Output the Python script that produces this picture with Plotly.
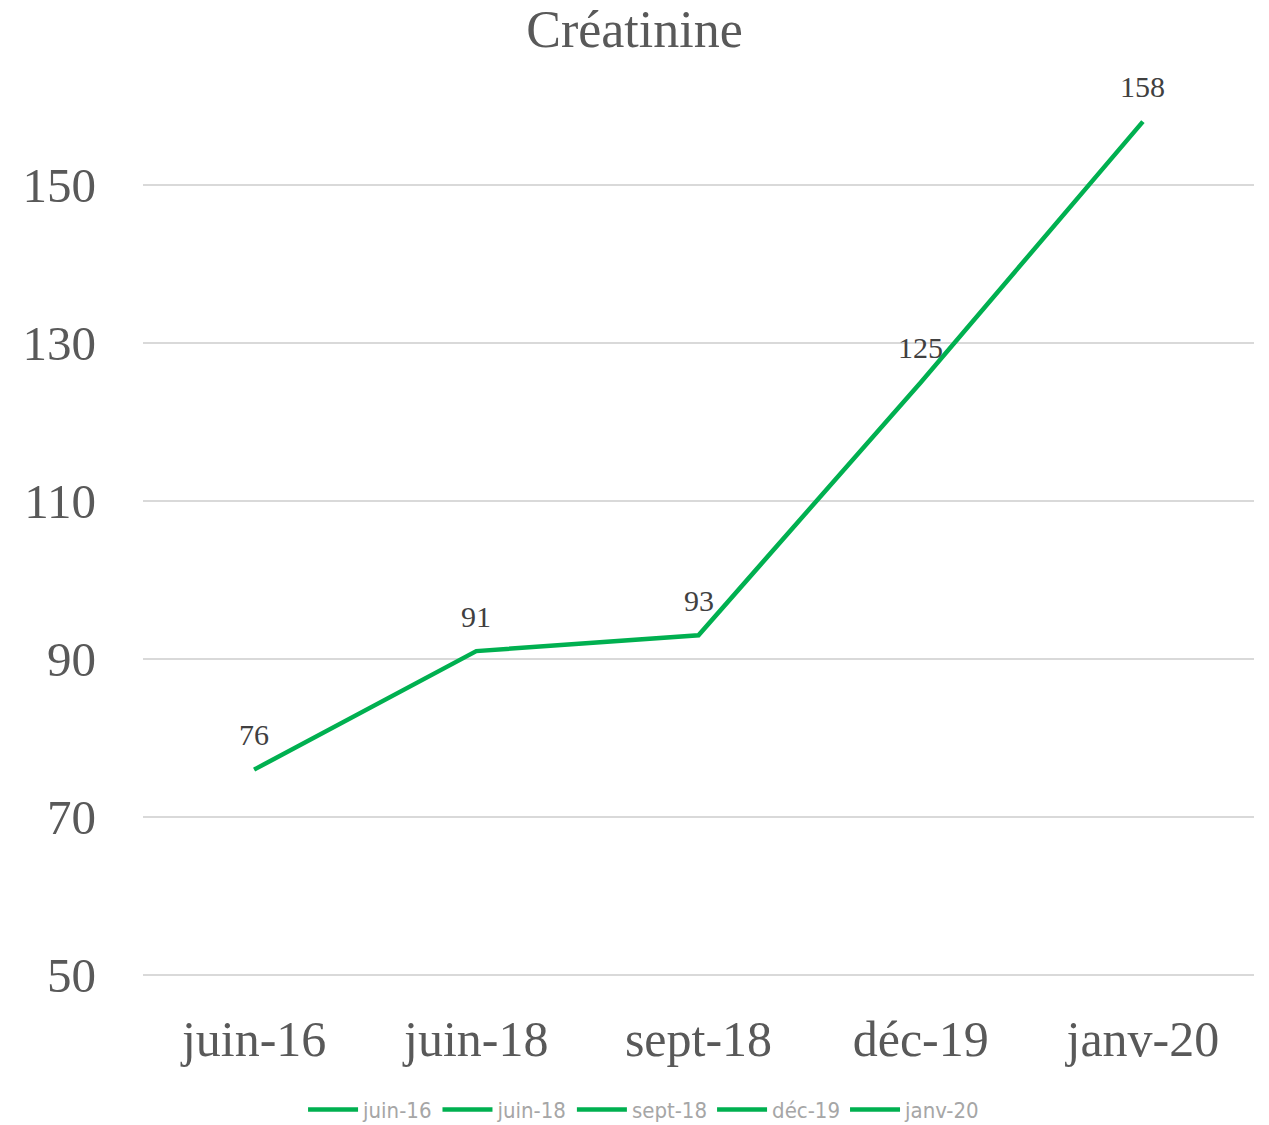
import plotly.graph_objects as go

# Créatinine measurements by date
dates = ["juin-16", "juin-18", "sept-18", "déc-19", "janv-20"]
creatinine = [76, 91, 93, 125, 158]
y_ticks = [50, 70, 90, 110, 130, 150]

green = "#00B050"
grey = "#595959"

fig = go.Figure()

fig.add_trace(go.Scatter(
    x=dates, y=creatinine,
    mode="lines",
    line=dict(color=green, width=4.5),
    showlegend=False,
))

# Value labels above each point
for d, v in zip(dates, creatinine):
    fig.add_annotation(
        x=d, y=v, text=str(v), showarrow=False,
        yshift=35, xanchor="center", yanchor="middle",
        font=dict(family="Liberation Serif", size=30, color="#404040"),
    )

# Legend entries, one per date
for d in dates:
    fig.add_trace(go.Scatter(
        x=[None], y=[None], mode="lines", name=d,
        line=dict(color=green, width=4.5),
    ))

fig.update_layout(
    width=1269, height=1125,
    paper_bgcolor="white", plot_bgcolor="white",
    margin=dict(l=143, r=15, t=90, b=142, autoexpand=False),
    title=dict(text="Créatinine", x=0.5, xanchor="center", y=0.974, yanchor="middle",
               font=dict(family="Liberation Serif", size=52, color=grey)),
    xaxis=dict(
        type="category", range=[-0.5, 4.5],
        showgrid=False, showline=False, zeroline=False, ticks="",
        tickfont=dict(family="Liberation Serif", size=50, color=grey),
        ticklabelstandoff=22,
    ),
    yaxis=dict(
        range=[49, 162], tickvals=y_ticks,
        showgrid=True, gridcolor="#D9D9D9", gridwidth=1.5,
        zeroline=False, showline=False, ticks="",
        tickfont=dict(family="Liberation Serif", size=49, color=grey),
        ticklabelstandoff=46,
    ),
    legend=dict(
        orientation="h", x=0.451, xanchor="center", y=-0.142, yanchor="middle",
        font=dict(family="DejaVu Sans Condensed", size=22, color="#A6A6A6"),
        itemwidth=50, tracegroupgap=0,
    ),
)

fig.write_html("out.html")
